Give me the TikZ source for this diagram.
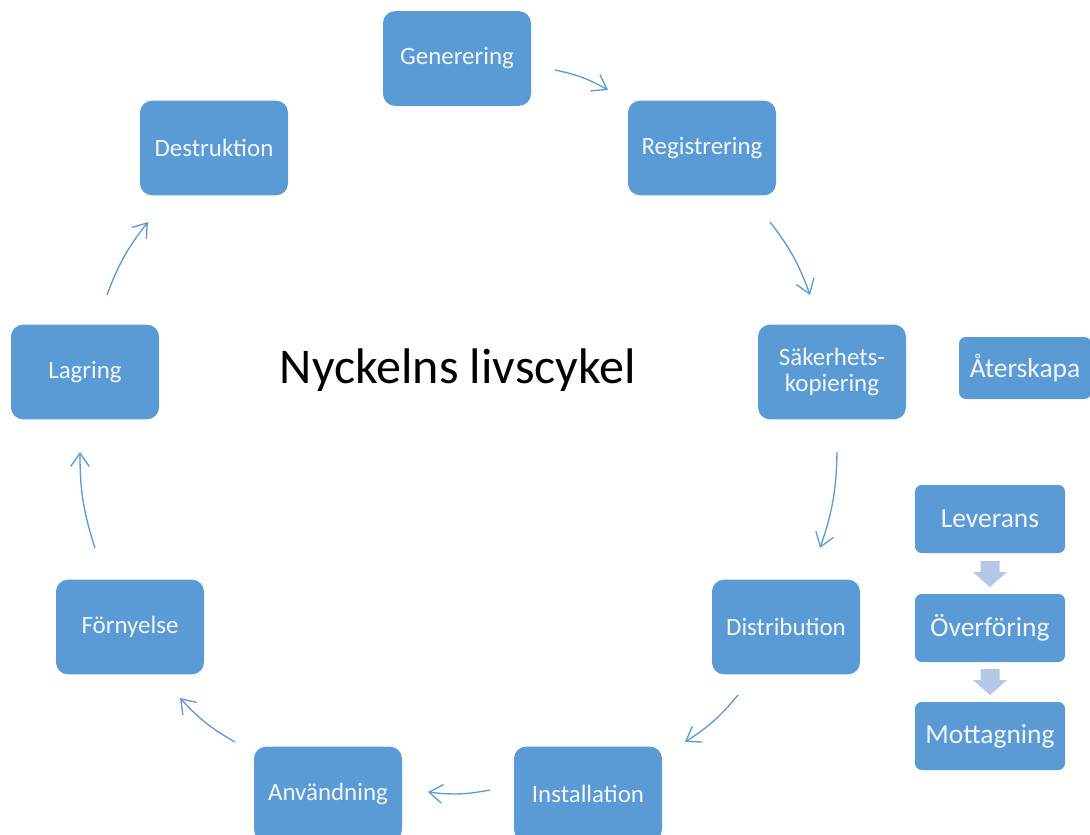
\documentclass[tikz,border=0pt]{standalone}
\usepackage{fontspec}
\setmainfont{Carlito}
\usetikzlibrary{arrows.meta}
\definecolor{boxblue}{HTML}{5B9BD5}
\definecolor{lightblue}{HTML}{B4C7E7}
\definecolor{boxtext}{HTML}{F2F6FC}
\begin{document}
\begin{tikzpicture}[x=0.75pt,y=-0.75pt,
  stage/.style={fill=boxblue, rounded corners=9pt, minimum width=111pt, minimum height=71pt,
    text=boxtext, font=\fontsize{18.7}{19.5}\selectfont, align=center, inner sep=0pt},
  sub/.style={fill=boxblue, rounded corners=5pt, minimum width=112.5pt, minimum height=51pt,
    text=boxtext, font=\fontsize{20.6}{22}\selectfont, inner sep=0pt},
  flow/.style={draw=boxblue, line width=1pt, -{Straight Barb[length=10pt,width=14pt]}, bend left=9},
  blockarrow/.style={fill=lightblue}]
\useasboundingbox (0,0) rectangle (1090,835);
\clip (0,0) rectangle (1090,835);

% main cycle
\node[stage] (gen) at (457,58.5) {Generering};
\node[stage] (reg) at (702,148) {Registrering};
\node[stage] (sak) at (832,372) {Säkerhets-\\kopiering};
\node[stage] (dis) at (786,627) {Distribution};
\node[stage] (ins) at (588,794) {Installation};
\node[stage] (anv) at (328,794) {Användning};
\node[stage] (forn) at (130,627) {Förnyelse};
\node[stage] (lag) at (85,372) {Lagring};
\node[stage] (des) at (214,148) {Destruktion};

\node[font=\fontsize{37.5}{40}\selectfont, text=black] (title) at (458,370) {Nyckelns livscykel};

% side boxes
\node[sub, minimum height=46.5pt, minimum width=99pt] (ater) at (1025,368) {Återskapa};
\node[sub] (lev) at (990,519) {Leverans};
\node[sub] (over) at (990,628) {Överföring};
\node[sub] (mott) at (990,736) {Mottagning};

% block arrows between side boxes
\fill[blockarrow] (980.5,561) -- (999.5,561) -- (999.5,572) -- (1007,572) -- (990,587) -- (973,572) -- (980.5,572) -- cycle;
\fill[blockarrow] (980.5,669) -- (999.5,669) -- (999.5,680) -- (1007,680) -- (990,695) -- (973,680) -- (980.5,680) -- cycle;

% connector end points
\coordinate (g1) at (555,70);  \coordinate (g2) at (608,90);
\coordinate (r1) at (770,222); \coordinate (r2) at (810,295);
\coordinate (s1) at (837,452); \coordinate (s2) at (820,548);
\coordinate (d1) at (738,695); \coordinate (d2) at (685,742);
\coordinate (i1) at (490,790); \coordinate (i2) at (428,792);
\coordinate (a1) at (235,742); \coordinate (a2) at (180,698);
\coordinate (f1) at (95,548);  \coordinate (f2) at (80,452);
\coordinate (l1) at (107,295); \coordinate (l2) at (148,222);

\draw[flow] (g1) to (g2);
\draw[flow] (r1) to (r2);
\draw[flow] (s1) to (s2);
\draw[flow] (d1) to (d2);
\draw[flow] (i1) to (i2);
\draw[flow] (a1) to (a2);
\draw[flow] (f1) to (f2);
\draw[flow] (l1) to (l2);
\end{tikzpicture}
\end{document}
